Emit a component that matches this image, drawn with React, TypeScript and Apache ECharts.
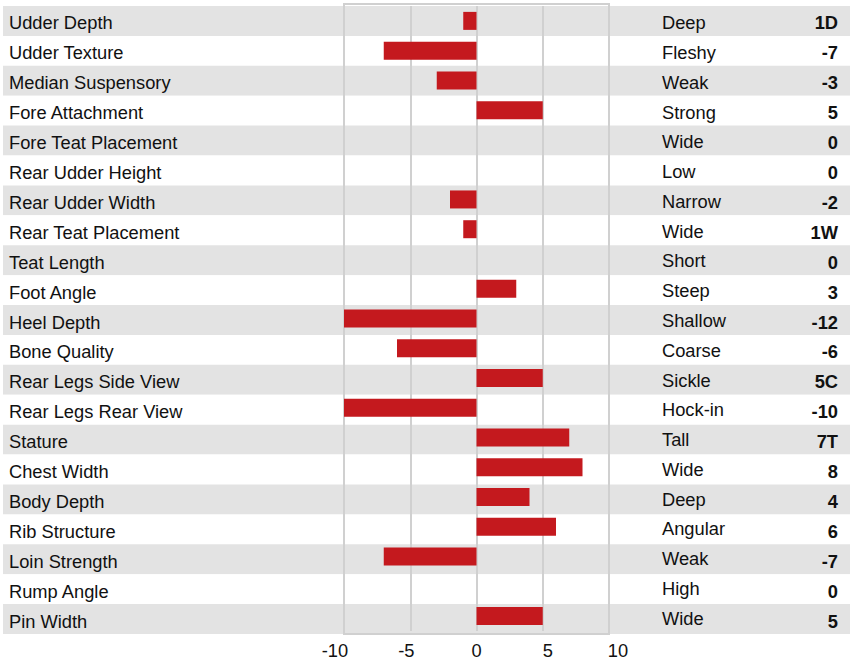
import React, { useEffect, useRef } from "react";
import * as echarts from "echarts";

const traits = [
  "Udder Depth", "Udder Texture", "Median Suspensory", "Fore Attachment", "Fore Teat Placement",
  "Rear Udder Height", "Rear Udder Width", "Rear Teat Placement", "Teat Length", "Foot Angle",
  "Heel Depth", "Bone Quality", "Rear Legs Side View", "Rear Legs Rear View", "Stature",
  "Chest Width", "Body Depth", "Rib Structure", "Loin Strength", "Rump Angle", "Pin Width",
];
const descriptors = [
  "Deep", "Fleshy", "Weak", "Strong", "Wide", "Low", "Narrow", "Wide", "Short", "Steep",
  "Shallow", "Coarse", "Sickle", "Hock-in", "Tall", "Wide", "Deep", "Angular", "Weak", "High", "Wide",
];
const scoreLabels = [
  "1D", "-7", "-3", "5", "0", "0", "-2", "1W", "0", "3",
  "-12", "-6", "5C", "-10", "7T", "8", "4", "6", "-7", "0", "5",
];
const barValues = [-1, -7, -3, 5, 0, 0, -2, -1, 0, 3, -12, -6, 5, -10, 7, 8, 4, 6, -7, 0, 5];
const axisMin = -10;
const axisMax = 10;
const axisStep = 5;

const FONT = "'Liberation Sans', Arial, Helvetica, sans-serif";
const FS = 18.3;
const TEXT = "#111111";
const GRIDC = "#d0d0d0";

export default function App() {
  const ref = useRef<HTMLDivElement>(null);
  useEffect(() => {
    if (!ref.current) return;
    const chart = echarts.init(ref.current, null, { renderer: "svg" });
    const tickStyle = (pad: number[]) => ({
      fontSize: FS,
      fontFamily: FONT,
      color: TEXT,
      padding: pad,
    });
    const rowText = (bold: boolean) => ({
      fontSize: FS,
      fontFamily: FONT,
      color: TEXT,
      fontWeight: bold ? "bold" : "normal",
      padding: [4, 0, 0, 0],
    });
    const option: any = {
      animation: false,
      backgroundColor: "#ffffff",
      textStyle: { fontFamily: FONT },
      grid: [
        { left: 3, right: 8, top: 6, bottom: 25, z: 0 },
        { left: 344, right: 249, top: 6, bottom: 25, z: 1 },
        {
          left: 344, right: 249, top: 4, bottom: 25, z: 2,
          show: true, borderColor: GRIDC, borderWidth: 2, backgroundColor: "transparent",
        },
      ],
      xAxis: [
        { type: "value", gridIndex: 0, show: false, min: 0, max: 1 },
        {
          type: "value", gridIndex: 1, min: axisMin, max: axisMax, interval: axisStep, z: 1,
          axisLine: { show: false }, axisTick: { show: false },
          splitLine: { show: true, lineStyle: { color: GRIDC, width: 2 } },
          axisLabel: {
            margin: 10,
            fontSize: FS, fontFamily: FONT, color: TEXT,
            formatter: (v: number) => {
              const key = v === 0 ? "z" : (v < 0 ? "m" : "p") + Math.abs(v);
              return `{${key}|${v}}`;
            },
            rich: {
              m10: tickStyle([0, 18, 0, 0]),
              m5: tickStyle([0, 8, 0, 0]),
              z: tickStyle([0, 0, 0, 0]),
              p5: tickStyle([0, 0, 0, 10]),
              p10: tickStyle([0, 0, 0, 18]),
            },
          },
        },
        { type: "value", gridIndex: 2, show: false, min: 0, max: 1 },
      ],
      yAxis: [
        {
          type: "category", gridIndex: 0, data: traits, inverse: true, z: 0,
          axisLine: { show: false }, axisTick: { show: false }, splitLine: { show: false },
          splitArea: { show: true, areaStyle: { color: ["#e3e3e3", "#ffffff"] } },
          axisLabel: {
            inside: true, margin: 6, fontSize: FS, fontFamily: FONT, color: TEXT,
            formatter: (v: string) => `{t|${v}}`,
            rich: { t: rowText(false) },
          },
        },
        {
          type: "category", gridIndex: 0, data: scoreLabels, inverse: true, position: "right", z: 1,
          axisLine: { show: false }, axisTick: { show: false }, splitLine: { show: false },
          axisLabel: {
            inside: true, margin: 12, fontSize: FS, fontWeight: "bold", fontFamily: FONT, color: TEXT,
            formatter: (v: string) => `{s|${v}}`,
            rich: { s: rowText(true) },
          },
        },
        {
          type: "category", gridIndex: 1, data: descriptors, inverse: true, position: "right", z: 1,
          axisLine: { show: false }, axisTick: { show: false }, splitLine: { show: false },
          axisLabel: {
            margin: 53, fontSize: FS, fontFamily: FONT, color: TEXT, align: "left",
            formatter: (v: string) => `{d|${v}}`,
            rich: { d: rowText(false) },
          },
        },
        { type: "category", gridIndex: 2, show: false, data: traits },
      ],
      series: [
        {
          type: "bar",
          xAxisIndex: 1,
          yAxisIndex: 2,
          data: barValues,
          barWidth: 18,
          itemStyle: { color: "#c4191e" },
          z: 4,
          clip: true,
        },
      ],
    };
    chart.setOption(option);
    return () => chart.dispose();
  }, []);
  return (
    <div
      ref={ref}
      style={{ position: "fixed", left: 0, top: 0, width: 858, height: 659 }}
    />
  );
}
